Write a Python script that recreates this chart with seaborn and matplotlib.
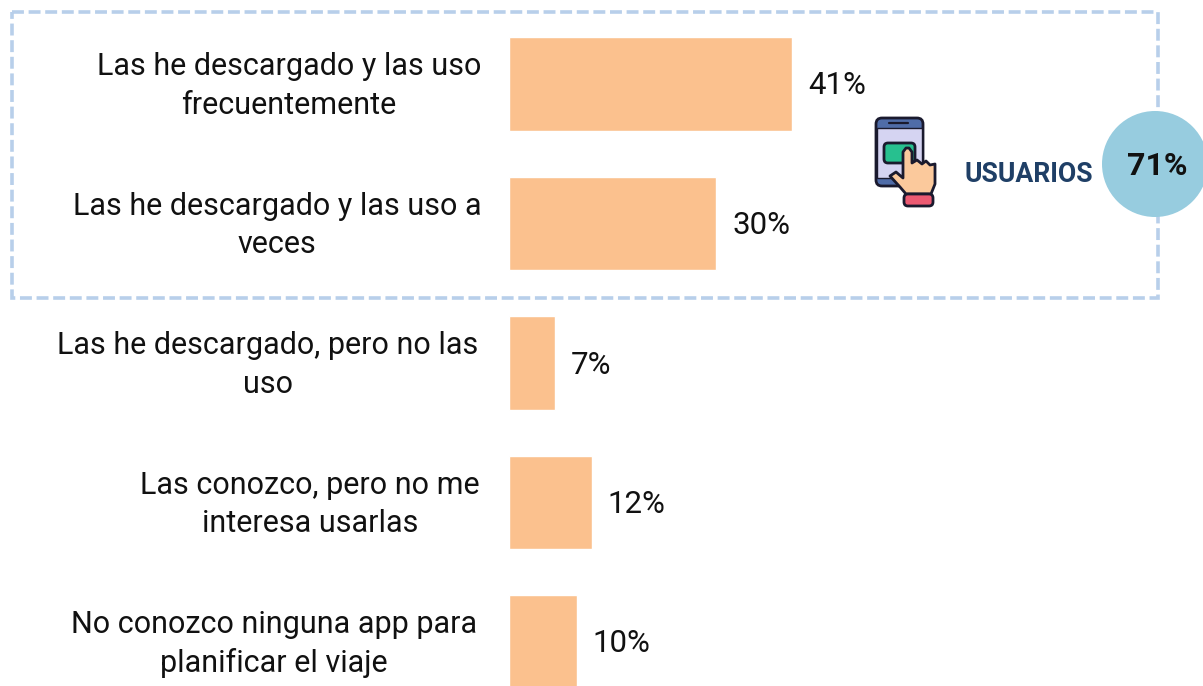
import matplotlib
matplotlib.use('Agg')
import matplotlib.pyplot as plt
from matplotlib.patches import Rectangle, Circle, FancyBboxPatch, Polygon
import pandas as pd
import seaborn as sns

categories = ['Las he descargado y las uso\nfrecuentemente',
              'Las he descargado y las uso a\nveces',
              'Las he descargado, pero no las\nuso',
              'Las conozco, pero no me\ninteresa usarlas',
              'No conozco ninguna app para\nplanificar el viaje']
values = [41, 30, 6.6, 12, 9.8]
value_labels = ['41%', '30%', '7%', '12%', '10%']
label_x = [289, 277, 268, 310, 274]
W, H = 1203, 686
DARK = '#1A1A2E'

sns.set_theme(style='white')
plt.rcParams['font.family'] = ['Roboto', 'DejaVu Sans']

df = pd.DataFrame({'cat': categories, 'val': values})

fig = plt.figure(figsize=(W / 100, H / 100), dpi=100)
# bars: 0% at x=510, 41% at x=792, rows 139.5 px apart starting at y=84
ax = fig.add_axes([509 / W, 0, (792.3 - 509) / W, 1])
sns.barplot(data=df, y='cat', x='val', color='#FBC18E', saturation=1, width=0.667, ax=ax)
ax.set_xlim(0, 41)
ax.set_ylim((686 - 84) / 139.5, -84 / 139.5)
ax.axis('off')

# overlay in pixel coords
ov = fig.add_axes([0, 0, 1, 1], facecolor='none')
ov.set_xlim(0, W)
ov.set_ylim(H, 0)
ov.axis('off')

for i, (c, v, lab) in enumerate(zip(categories, values, value_labels)):
    y = H - ax.transData.transform((0, i))[1]
    ov.text(label_x[i], y + 2, c, ha='center', va='center', fontsize=22, color='#111111',
            linespacing=1.41, multialignment='center')
    px = ax.transData.transform((v, i))[0]
    ov.text(px + 16, y + 2, lab, ha='left', va='center', fontsize=22.5, color='#111111')

ov.add_patch(Rectangle((12, 12), 1146, 286, fill=False, ec='#B8CFEA', lw=2.6, ls=(0, (3.3, 1.3))))
ov.add_patch(Circle((1155, 164), 53, fc='#97CCDF', ec='none', clip_on=False))
ov.text(1157, 166, '71%', ha='center', va='center', fontsize=23, fontweight='bold', color='#111111')
ov.text(1029, 174, 'USUARIOS', ha='center', va='center', fontsize=19.2, fontweight='bold', color='#1F3F66')

# phone icon
ov.add_patch(FancyBboxPatch((876, 118), 47, 68, boxstyle='round,pad=0,rounding_size=6', fc='#4F6CA8', ec=DARK, lw=2))
ov.add_patch(Rectangle((877, 128), 45, 50, fc='#D5D4F2', ec=DARK, lw=1))
ov.plot([889, 908], [123, 123], color=DARK, lw=1.6)
ov.add_patch(FancyBboxPatch((884, 143), 31, 20, boxstyle='round,pad=0,rounding_size=4', fc='#27C08F', ec=DARK, lw=2))
# hand
ov.add_patch(Polygon([(890, 176), (896, 172), (903, 178), (903, 152), (906, 148), (909, 148), (912, 152),
                      (912, 163), (917, 160), (922, 164), (926, 161), (930, 165), (935, 164), (935, 184),
                      (931, 194), (906, 194), (900, 187)],
                     fc='#FBC99C', ec=DARK, lw=2, joinstyle='round', zorder=4))
ov.add_patch(FancyBboxPatch((904, 194), 29, 12, boxstyle='round,pad=0,rounding_size=4', fc='#EC5A72', ec=DARK, lw=2, zorder=5))

fig.savefig('out.png', dpi=100)
